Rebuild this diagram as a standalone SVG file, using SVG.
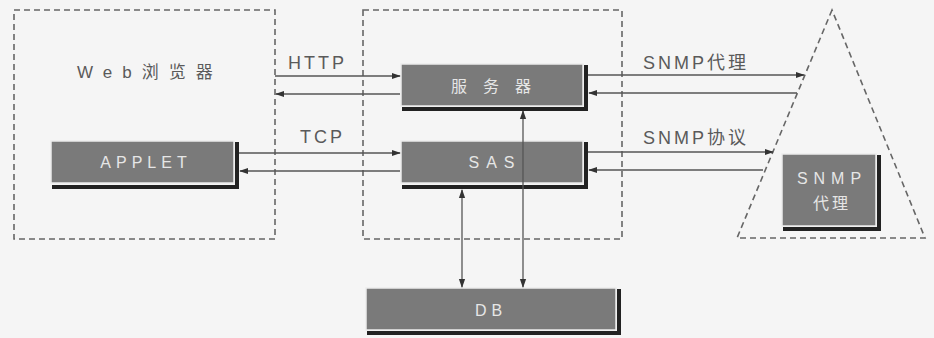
<svg xmlns="http://www.w3.org/2000/svg" width="934" height="338" viewBox="0 0 934 338">
<defs>
<style>
.dash{fill:none;stroke:#666;stroke-width:1.6;stroke-dasharray:6 4}
.face{fill:#7a7a7a;stroke:#ececec;stroke-width:1.5}
.shadow{fill:none;stroke:#222;stroke-width:4}
.bt{font-family:"Liberation Sans","Noto Sans CJK SC",sans-serif;font-size:16px;fill:#e6e6e6;text-anchor:middle;letter-spacing:5px}
.lbl{font-family:"Liberation Sans","Noto Sans CJK SC",sans-serif;font-size:18px;fill:#5a5a5a;letter-spacing:3px}
.ln{stroke:#555;stroke-width:1.3;fill:none}
</style>
<marker id="ah" viewBox="0 0 10 10" refX="9" refY="5" markerWidth="9" markerHeight="9" markerUnits="userSpaceOnUse" orient="auto-start-reverse">
<path d="M0,1.5 L10,5 L0,8.5 z" fill="#333"/>
</marker>
</defs>
<rect width="934" height="338" fill="#f5f5f5"/>

<g id="browser-region">
<rect class="dash" x="14" y="10" width="261" height="229"/>
<text class="lbl" x="77" y="78" style="letter-spacing:10px;font-size:17px">Web浏览器</text>
</g>
<g id="server-region">
<rect class="dash" x="363" y="10" width="259" height="229"/>
</g>
<g id="agent-region">
<path class="dash" d="M832,10 L737,238 L925,238 Z"/>
</g>

<g id="applet">
<rect class="face" x="51" y="141" width="183" height="42"/>
<path class="shadow" d="M237,142 V187 H52"/>
<text class="bt" x="146" y="168">APPLET</text>
</g>
<g id="server">
<rect class="face" x="401" y="64" width="182" height="42"/>
<path class="shadow" d="M586,65 V109 H402"/>
<text class="bt" x="499" y="92" style="letter-spacing:16px">服务器</text>
</g>
<g id="sas">
<rect class="face" x="401" y="141" width="182" height="42"/>
<path class="shadow" d="M586,142 V187 H402"/>
<text class="bt" x="495" y="168" style="letter-spacing:7px">SAS</text>
</g>
<g id="snmp-agent">
<rect class="face" x="782" y="154" width="94" height="72"/>
<path class="shadow" d="M879,155 V229 H783"/>
<text class="bt" x="832" y="184" style="letter-spacing:6px">SNMP</text>
<text class="bt" x="832" y="209" style="letter-spacing:3px">代理</text>
</g>
<g id="db">
<rect class="face" x="366" y="288" width="250" height="42"/>
<path class="shadow" d="M619,289 V333 H367"/>
<text class="bt" x="491" y="316">DB</text>
</g>

<g id="connectors">
<line class="ln" x1="275" y1="76" x2="400" y2="76" marker-end="url(#ah)"/>
<line class="ln" x1="400" y1="94" x2="276" y2="94" marker-end="url(#ah)"/>
<line class="ln" x1="239" y1="153" x2="400" y2="153" marker-end="url(#ah)"/>
<line class="ln" x1="400" y1="171" x2="240" y2="171" marker-end="url(#ah)"/>
<line class="ln" x1="588" y1="75" x2="804" y2="75" marker-end="url(#ah)"/>
<line class="ln" x1="797" y1="93" x2="589" y2="93" marker-end="url(#ah)"/>
<line class="ln" x1="588" y1="152" x2="773" y2="152" marker-end="url(#ah)"/>
<line class="ln" x1="763" y1="170" x2="589" y2="170" marker-end="url(#ah)"/>
<line class="ln" x1="462" y1="190" x2="462" y2="287" marker-start="url(#ah)" marker-end="url(#ah)"/>
<line class="ln" x1="523" y1="111" x2="523" y2="287" marker-start="url(#ah)" marker-end="url(#ah)"/>
<text class="lbl" x="288" y="69">HTTP</text>
<text class="lbl" x="300" y="143">TCP</text>
<text class="lbl" x="643" y="69">SNMP代理</text>
<text class="lbl" x="643" y="144">SNMP协议</text>
</g>
</svg>
